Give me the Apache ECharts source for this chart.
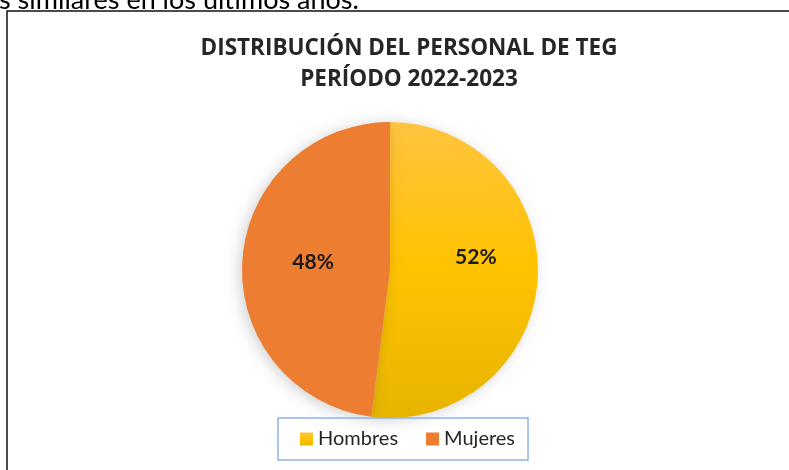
<!DOCTYPE html>
<html>
<head>
<meta charset="utf-8">
<script src="https://cdn.jsdelivr.net/npm/echarts@6/dist/echarts.min.js"></script>
<style>
  html, body { margin: 0; padding: 0; background: #fff; }
  #chart { width: 789px; height: 470px; }
</style>
</head>
<body>
<div id="chart"></div>
<script>
// datos del gráfico
const categories = ['Hombres', 'Mujeres'];
const values = [52, 48];
const colors = ['#FFC000', '#ED7D31'];
// ajuste de posición de las etiquetas de porcentaje
const labelOffsets = [[9, -18], [0, -3]];

const chart = echarts.init(document.getElementById('chart'));

const pieData = categories.map((name, i) => {
    let color = colors[i];
    if (i === 0) {
        // degradado amarillo, más claro arriba
        color = new echarts.graphic.LinearGradient(0, 0, 0, 1, [
            {offset: 0, color: '#FFC43F'},
            {offset: 0.5, color: '#FFC300'},
            {offset: 1, color: '#E6B400'}
        ]);
    }
    return {name: name, value: values[i], itemStyle: {color: color}, label: {offset: labelOffsets[i]}};
});

chart.setOption({
    animation: false,
    textStyle: {fontFamily: 'Lato'},
    title: {
        text: 'DISTRIBUCIÓN DEL PERSONAL DE TEG\nPERÍODO 2022-2023',
        left: 404,
        top: 28,
        textAlign: 'center',
        textStyle: {
            fontFamily: 'Open Sans',
            fontSize: 22.5,
            fontWeight: 'bold',
            color: '#262626',
            lineHeight: 31
        }
    },
    legend: {
        data: categories,
        left: 278,
        top: 418,
        padding: [11, 13, 11, 22],
        itemGap: 28,
        itemWidth: 13,
        itemHeight: 13,
        icon: 'rect',
        borderColor: '#8EB4E3',
        borderWidth: 1.5,
        textStyle: {fontFamily: 'Lato', fontSize: 20, color: '#262626'}
    },
    graphic: [
        {
            type: 'text',
            left: -1,
            top: -13,
            style: {
                text: 's similares en los últimos años.',
                font: '27px Lato',
                fill: '#000'
            }
        },
        {
            type: 'rect',
            shape: {x: 7, y: 11, width: 800, height: 480},
            style: {fill: 'none', stroke: '#111', lineWidth: 1.5},
            silent: true
        }
    ],
    series: [{
        type: 'pie',
        center: [390, 270],
        radius: 148,
        startAngle: 90,
        clockwise: true,
        itemStyle: {
            shadowBlur: 14,
            shadowColor: 'rgba(0,0,0,0.18)',
            shadowOffsetX: -3,
            shadowOffsetY: 2
        },
        label: {
            show: true,
            position: 'inside',
            formatter: '{d}%',
            fontFamily: 'Lato',
            fontSize: 21,
            fontWeight: 'bold',
            color: '#1a1a1a'
        },
        labelLine: {show: false},
        emphasis: {disabled: true},
        data: pieData
    }]
});
</script>
</body>
</html>
